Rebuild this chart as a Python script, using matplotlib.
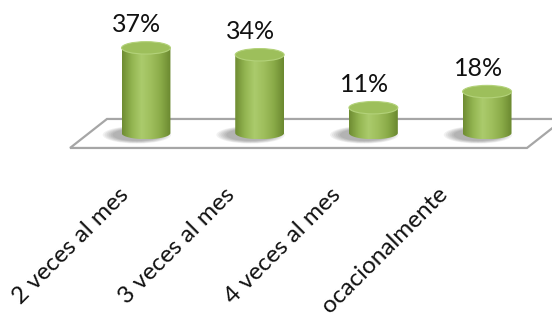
import numpy as np
import matplotlib
matplotlib.use("Agg")
import matplotlib.pyplot as plt
from matplotlib.colors import LinearSegmentedColormap
from matplotlib.patches import Ellipse, Polygon, PathPatch
from matplotlib.path import Path

# datos
categories = ["2 veces al mes", "3 veces al mes", "4 veces al mes", "ocacionalmente"]
values = [37, 34, 11, 18]
value_labels = ["37%", "34%", "11%", "18%"]

plt.rcParams["font.family"] = ["Lato", "DejaVu Sans"]

BAR_W = 0.43     # ancho del cilindro (unidades de categoria)
RY = 2.7         # semi-eje menor de la elipse (unidades de valor)

_BODY_CMAP = LinearSegmentedColormap.from_list(
    "cyl", ["#6f8d33", "#93b551", "#abcb6c", "#9ebe5c", "#8aab48", "#6b8930"])
_SHADOW_STEPS = 6


def draw_cylinder(ax, x, h):
    x0, x1 = x - BAR_W / 2, x + BAR_W / 2

    # sombra suave sobre el piso
    for k in range(_SHADOW_STEPS):
        s = 1 + 0.08 * k
        ax.add_patch(Ellipse((x - 0.08, -0.8), BAR_W * s, 2 * RY * s,
                             facecolor="black", alpha=0.055, lw=0, zorder=2))

    # cuerpo: rectangulo + media elipse inferior
    t = np.linspace(0, -np.pi, 40)
    verts = [(x0, h), (x1, h)] + [(x + BAR_W / 2 * np.cos(a), RY * np.sin(a)) for a in t]
    verts.append((x0, h))
    codes = [Path.MOVETO] + [Path.LINETO] * (len(verts) - 2) + [Path.CLOSEPOLY]
    patch = PathPatch(Path(verts, codes), facecolor="none", edgecolor="none",
                      transform=ax.transData, zorder=3)
    ax.add_patch(patch)
    grad = np.linspace(0, 1, 64).reshape(1, -1)
    im = ax.imshow(grad, cmap=_BODY_CMAP, extent=(x0, x1, -RY, h),
                   aspect="auto", origin="lower", zorder=3, interpolation="bilinear")
    im.set_clip_path(patch)

    # tapa superior
    ax.add_patch(Ellipse((x, h), BAR_W, 2 * RY, facecolor="#9dbf5b",
                         edgecolor="#b3d27a", lw=0.8, zorder=4))


fig = plt.figure(figsize=(5.52, 3.21), dpi=100)
ax = fig.add_axes([0, 0, 1, 1])

# piso en perspectiva
floor = Polygon([(-0.668, -6.5), (3.351, -6.5), (3.676, 6.1), (-0.343, 6.1)],
                closed=True, facecolor="white", edgecolor="#a6a6a6", lw=1.6, zorder=1)
ax.add_patch(floor)

xs = np.arange(len(categories))
for x, v, lbl in zip(xs, values, value_labels):
    draw_cylinder(ax, x, v)
    ax.annotate(lbl, (x, v), xytext=(-6.5, 16.5), textcoords="offset points",
                ha="center", va="center", fontsize=18, color="#111111", zorder=5)

# etiquetas inclinadas (con perspectiva)
for x, cat in zip(xs, categories):
    ax.text(x * 0.935 - 0.25, -22, cat, rotation=45, rotation_mode="anchor",
            ha="right", va="top", fontsize=17.5, color="#111111")

ax.set_xlim(-1.284, 3.571)
ax.set_ylim(-81.7, 57.8)
ax.axis("off")

fig.savefig("out.png", dpi=100)
